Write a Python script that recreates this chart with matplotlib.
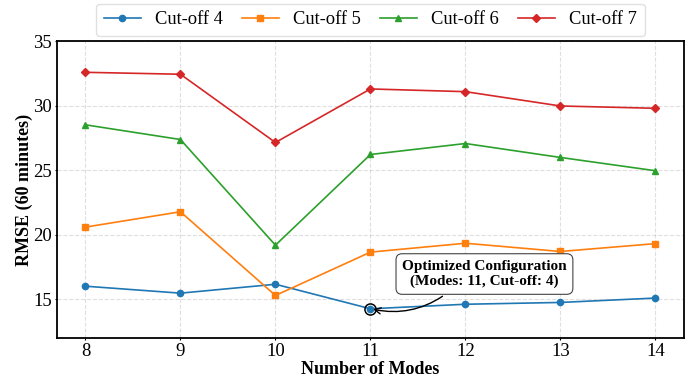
import matplotlib
matplotlib.use("Agg")
import matplotlib.pyplot as plt

modes = [8, 9, 10, 11, 12, 13, 14]
rmse_cut4 = [16.0, 15.46, 16.15, 14.25, 14.6, 14.74, 15.08]
rmse_cut5 = [20.58, 21.77, 15.28, 18.64, 19.33, 18.69, 19.3]
rmse_cut6 = [28.51, 27.37, 19.18, 26.21, 27.06, 25.98, 24.95]
rmse_cut7 = [32.58, 32.43, 27.14, 31.29, 31.08, 29.97, 29.79]
series_labels = ["Cut-off 4", "Cut-off 5", "Cut-off 6", "Cut-off 7"]

best_mode = 11
best_rmse = 14.25

plt.rcParams["font.family"] = ["Liberation Serif", "DejaVu Serif"]

fig = plt.figure(figsize=(6.86, 3.77), dpi=100)
ax = fig.add_axes([0.083, 0.104, 0.914, 0.787])

colors = ["#1f77b4", "#ff7f0e", "#2ca02c", "#d62728"]
markers = ["o", "s", "^", "D"]
for vals, lab, c, m in zip([rmse_cut4, rmse_cut5, rmse_cut6, rmse_cut7],
                           series_labels, colors, markers):
    ax.plot(modes, vals, marker=m, color=c, label=lab, linewidth=1.2, markersize=4.5)

# highlight the best configuration
ax.plot(best_mode, best_rmse, marker="o", markersize=8, markerfacecolor="none",
        markeredgecolor="black", markeredgewidth=1.1, linestyle="none")
ax.annotate("Optimized Configuration\n(Modes: 11, Cut-off: 4)",
            xy=(best_mode, best_rmse), xytext=(12.2, 16.95),
            ha="center", va="center", fontsize=11, fontweight="bold",
            bbox=dict(boxstyle="round,pad=0.4", facecolor="white", edgecolor="#444444", linewidth=0.8),
            arrowprops=dict(arrowstyle="->", color="black", lw=1.0, relpos=(0.31, 0.0),
                            connectionstyle="arc3,rad=-0.25"))

ax.set_ylim(12, 35)
ax.set_xticks(modes)
ax.set_yticks([15, 20, 25, 30, 35])
ax.tick_params(labelsize=13.5, length=1.5, pad=2)
ax.set_xlabel("Number of Modes", fontsize=13, fontweight="bold", labelpad=1)
ax.set_ylabel("RMSE (60 minutes)", fontsize=13, fontweight="bold", labelpad=0.5)
ax.grid(True, linestyle="--", alpha=0.4)
for s in ax.spines.values():
    s.set_linewidth(1.3)

ax.legend(loc="lower center", bbox_to_anchor=(0.5, 1.0), ncol=4, fontsize=13.3,
          frameon=True, framealpha=0.9, edgecolor="#dddddd",
          columnspacing=1.0, borderaxespad=0.3)

fig.savefig("out.png", dpi=100)
